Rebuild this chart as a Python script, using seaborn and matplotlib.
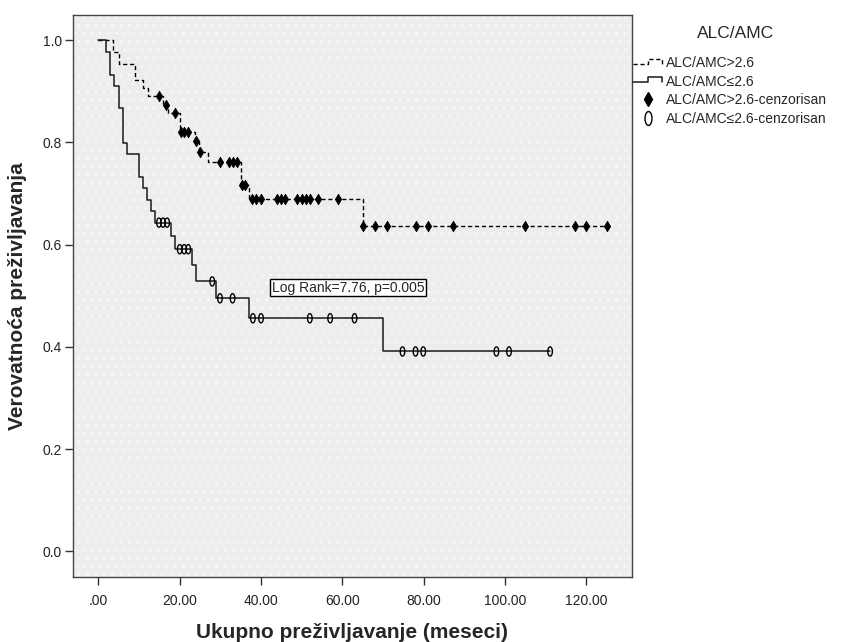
import numpy as np
import pandas as pd
import matplotlib
matplotlib.use("Agg")
import matplotlib.pyplot as plt
import seaborn as sns
from matplotlib.path import Path
from matplotlib.lines import Line2D
from matplotlib.patches import Rectangle
from matplotlib.legend_handler import HandlerBase

# ---------------- data ----------------
high_times = [0, 3.7, 5.0, 8.9, 10.9, 12.2, 15.9, 17.1, 20.0, 23.7, 24.7, 26.9, 35.0, 37.0, 65.0, 125.0]
high_surv = [1.0, 0.977, 0.953, 0.921, 0.906, 0.890, 0.873, 0.857, 0.820, 0.802, 0.782, 0.761, 0.717, 0.690, 0.637, 0.637]
high_censor = [14.9, 16.6, 18.9, 20.2, 21.1, 22.1, 24.1, 25.0, 29.9, 32.0, 33.1, 34.1, 35.2, 36.0,
               37.8, 38.8, 40.0, 44.0, 44.8, 45.9, 48.9, 50.0, 51.0, 52.1, 53.9, 59.0,
               65.1, 68.0, 71.0, 78.0, 81.0, 87.1, 105.0, 117.2, 120.0, 125.0]

low_times = [0, 1.8, 2.9, 3.9, 5.1, 6.0, 7.0, 10.1, 10.9, 12.0, 13.0, 14.0, 17.9, 18.9, 23.1, 23.9, 28.9, 37.1, 70.0, 111.1]
low_surv = [1.0, 0.977, 0.932, 0.910, 0.867, 0.799, 0.777, 0.732, 0.710, 0.688, 0.665, 0.643, 0.617, 0.591,
            0.560, 0.528, 0.495, 0.456, 0.391, 0.391]
low_censor = [14.9, 15.9, 16.9, 20.0, 21.1, 22.1, 28.0, 29.9, 33.0, 38.0, 40.0, 52.0, 57.0, 63.0,
              74.8, 78.0, 79.9, 97.9, 101.0, 111.1]

x_ticks = [0, 20, 40, 60, 80, 100, 120]
x_tick_labels = [".00", "20.00", "40.00", "60.00", "80.00", "100.00", "120.00"]
y_ticks = [0.0, 0.2, 0.4, 0.6, 0.8, 1.0]
y_tick_labels = ["0.0", "0.2", "0.4", "0.6", "0.8", "1.0"]

legend_title = "ALC/AMC"
legend_labels = ["ALC/AMC>2.6", "ALC/AMC\u22642.6", "ALC/AMC>2.6-cenzorisan", "ALC/AMC\u22642.6-cenzorisan"]
annotation_text = "Log Rank=7.76, p=0.005"
annotation_pos = (42.6, 0.516)
x_label = "Ukupno preživljavanje (meseci)"
y_label = "Verovatnoća preživljavanja"

# ---------------- style ----------------
sns.set_style("white")
plt.rcParams["font.family"] = ["Liberation Sans", "DejaVu Sans"]
plt.rcParams["hatch.color"] = "white"
plt.rcParams["hatch.linewidth"] = 0.6

W, H = 843, 642
fig = plt.figure(figsize=(W / 100, H / 100), dpi=100)
ax_l, ax_r, ax_t, ax_b = 73, 632, 14.5, 577
ax = fig.add_axes([ax_l / W, 1 - ax_b / H, (ax_r - ax_l) / W, (ax_b - ax_t) / H])
ax.set_facecolor("#ededed")
ax.add_patch(Rectangle((0, 0), 1, 1, transform=ax.transAxes, fill=False, hatch="..",
                       linewidth=0, edgecolor="white", alpha=0.6, zorder=0))


def surv_at(times, surv, t):
    idx = np.searchsorted(np.asarray(times), np.asarray(t), side="right") - 1
    return np.asarray(surv)[idx]


df_high = pd.DataFrame({"t": high_times, "s": high_surv})
df_low = pd.DataFrame({"t": low_times, "s": low_surv})
dfc_high = pd.DataFrame({"t": high_censor, "s": surv_at(high_times, high_surv, high_censor)})
dfc_low = pd.DataFrame({"t": low_censor, "s": surv_at(low_times, low_surv, low_censor)})

dash = (0, (3, 2))
sns.lineplot(data=df_high, x="t", y="s", drawstyle="steps-post", estimator=None, sort=False,
             color="black", linewidth=1.0, ax=ax, legend=False)
ax.lines[-1].set_linestyle(dash)
sns.lineplot(data=df_low, x="t", y="s", drawstyle="steps-post", estimator=None, sort=False,
             color="#1a1a1a", linewidth=1.1, ax=ax, legend=False)

theta = np.linspace(0, 2 * np.pi, 60)
ellipse = Path(np.column_stack([0.5 * np.cos(theta), np.sin(theta)]), closed=True)

sns.scatterplot(data=dfc_high, x="t", y="s", marker="d", s=28, color="black",
                edgecolor="black", linewidth=0.6, ax=ax, legend=False, zorder=3)
sns.scatterplot(data=dfc_low, x="t", y="s", marker=ellipse, s=44, facecolor="none",
                edgecolor="black", linewidth=1.0, ax=ax, legend=False, zorder=3)

ax.text(annotation_pos[0], annotation_pos[1], annotation_text, ha="left", va="center", fontsize=10,
        bbox=dict(boxstyle="square,pad=0.12", fc="white", ec="black", lw=1.0), zorder=4)

ax.set_xlim(-6.25, 131.25)
ax.set_ylim(-0.05, 1.05)
ax.set_xticks(x_ticks)
ax.set_xticklabels(x_tick_labels)
ax.set_yticks(y_ticks)
ax.set_yticklabels(y_tick_labels)
ax.tick_params(axis="both", which="major", direction="out", length=5.5, width=1.0, color="#333333",
               labelsize=10, labelcolor="#222222", bottom=True, left=True)
ax.tick_params(axis="x", pad=7)
ax.tick_params(axis="y", pad=2.5)
ax.set_xlabel("")
ax.set_ylabel("")
for sp in ax.spines.values():
    sp.set_color("#444444")
    sp.set_linewidth(1.0)

fig.text(352 / W, 1 - 632 / H, x_label, ha="center", va="center", fontsize=15, fontweight="bold")
fig.text(18 / W, 1 - 296 / H, y_label, ha="center", va="center", fontsize=15, fontweight="bold",
         rotation=90)


# ---------------- legend ----------------
class StepHandler(HandlerBase):
    def create_artists(self, legend, orig_handle, xdescent, ydescent, width, height, fontsize, trans):
        x0 = -xdescent
        yc = -ydescent + height / 2
        xs = [x0, x0 + 0.5 * width, x0 + 0.5 * width, x0 + 0.96 * width, x0 + 0.96 * width]
        ys = [yc - 1.2, yc - 1.2, yc + 2.6, yc + 2.6, yc - 1.2]
        line = Line2D(xs, ys)
        line.update_from(orig_handle)
        line.set_marker("")
        line.set_transform(trans)
        return [line]


h1 = Line2D([], [], color="black", lw=1.0, linestyle=dash)
h2 = Line2D([], [], color="#1a1a1a", lw=1.1)
h3 = Line2D([], [], color="black", marker="d", linestyle="none", markersize=7)
h4 = Line2D([], [], marker=ellipse, linestyle="none", markerfacecolor="none",
            markeredgecolor="black", markersize=10, markeredgewidth=1.0)

fig.text(736 / W, 1 - 34 / H, legend_title, ha="center", va="center", fontsize=12.5)
fig.legend([h1, h2, h3, h4], legend_labels, loc="upper left",
           bbox_to_anchor=(633 / W, 1 - 56 / H), frameon=False, fontsize=10,
           handlelength=2.2, handletextpad=0.15, labelspacing=0.33, borderpad=0, borderaxespad=0,
           handler_map={h1: StepHandler(), h2: StepHandler()})

fig.savefig("out.png", dpi=100)
